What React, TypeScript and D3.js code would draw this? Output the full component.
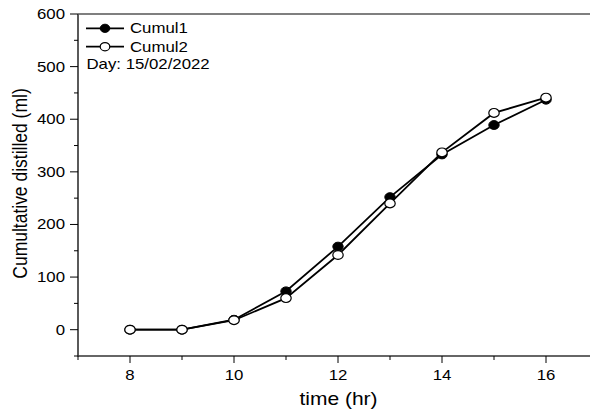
import React from "react";
import * as d3 from "d3";

const hours = [8, 9, 10, 11, 12, 13, 14, 15, 16];
const cumul1 = [0, 0, 19, 73, 158, 252, 333, 389, 437];
const cumul2 = [0, 0, 18, 60, 142, 240, 337, 412, 441];
const xTicks = [8, 10, 12, 14, 16];
const xMinor = [7, 9, 11, 13, 15, 17];
const yTicks = [0, 100, 200, 300, 400, 500, 600];
const yMinor = [-50, 50, 150, 250, 350, 450, 550];

const W = 590, H = 412;
const font = "Liberation Sans, Arial, sans-serif";
const SX = 1.2;

function T({ x, y, anchor = "start", size = 14, rot = false, children }: any) {
  const tr = `translate(${x},${y}) scale(${SX},1)` + (rot ? " rotate(-90)" : "");
  return (
    <text transform={tr} textAnchor={anchor} fontSize={size}>
      {children}
    </text>
  );
}

export default function App() {
  const x = d3.scaleLinear().domain([7, 17]).range([78, 598]);
  const y = d3.scaleLinear().domain([-50, 600]).range([356, 14]);
  const line = d3.line<number>().x((_, i) => x(hours[i])).y((d) => y(d));

  return (
    <svg width={W} height={H} style={{ position: "absolute", left: 0, top: 0, background: "#fff" }} fontFamily={font}>
      {/* axes */}
      <line x1={x(7)} x2={x(7)} y1={y(-50) + 0.6} y2={y(600)} stroke="#000" strokeWidth={1.3} />
      <line x1={x(7)} x2={x(17)} y1={y(-50)} y2={y(-50)} stroke="#333" strokeWidth={1.3} />
      <line x1={x(7)} x2={x(17)} y1={y(600)} y2={y(600)} stroke="#555" strokeWidth={1.3} />
      {yTicks.map((t) => (
        <g key={"y" + t}>
          <line x1={x(7) - 8} x2={x(7)} y1={y(t)} y2={y(t)} stroke="#000" strokeWidth={1} />
          <T x={x(7) - 13} y={y(t) + 5} anchor="end">{t}</T>
        </g>
      ))}
      {yMinor.map((t) => (
        <line key={"ym" + t} x1={x(7) - 4} x2={x(7)} y1={y(t)} y2={y(t)} stroke="#000" strokeWidth={1} />
      ))}
      {xTicks.map((t) => (
        <g key={"x" + t}>
          <line x1={x(t)} x2={x(t)} y1={y(-50)} y2={y(-50) + 7} stroke="#000" strokeWidth={1} />
          <T x={x(t)} y={379.5} anchor="middle">{t}</T>
        </g>
      ))}
      {xMinor.map((t) => (
        <line key={"xm" + t} x1={x(t)} x2={x(t)} y1={y(-50)} y2={y(-50) + 4} stroke="#000" strokeWidth={1} />
      ))}
      <T x={338.5} y={405} anchor="middle" size={17.5}>time (hr)</T>
      <T x={27} y={183.5} anchor="middle" size={17.5} rot>Cumultative distilled (ml)</T>

      {/* series */}
      <path d={line(cumul1) || ""} fill="none" stroke="#000" strokeWidth={1.8} />
      <path d={line(cumul2) || ""} fill="none" stroke="#000" strokeWidth={1.8} />
      {cumul1.map((v, i) => (
        <ellipse key={"c1" + i} cx={x(hours[i])} cy={y(v)} rx={5.2} ry={4.4} fill="#000" stroke="#000" strokeWidth={1} />
      ))}
      {cumul2.map((v, i) => (
        <ellipse key={"c2" + i} cx={x(hours[i])} cy={y(v)} rx={5.2} ry={4.4} fill="#fff" stroke="#000" strokeWidth={1.2} />
      ))}

      {/* legend */}
      <line x1={86} x2={124} y1={28.3} y2={28.3} stroke="#000" strokeWidth={1.8} />
      <ellipse cx={105} cy={28.3} rx={4.8} ry={4.1} fill="#000" stroke="#000" />
      <T x={130} y={33.3}>Cumul1</T>
      <line x1={86} x2={124} y1={46.7} y2={46.7} stroke="#000" strokeWidth={1.8} />
      <ellipse cx={105} cy={46.7} rx={4.8} ry={4.1} fill="#fff" stroke="#000" strokeWidth={1.2} />
      <T x={130} y={51.7}>Cumul2</T>
      <T x={86.5} y={69.3}>Day: 15/02/2022</T>
    </svg>
  );
}
